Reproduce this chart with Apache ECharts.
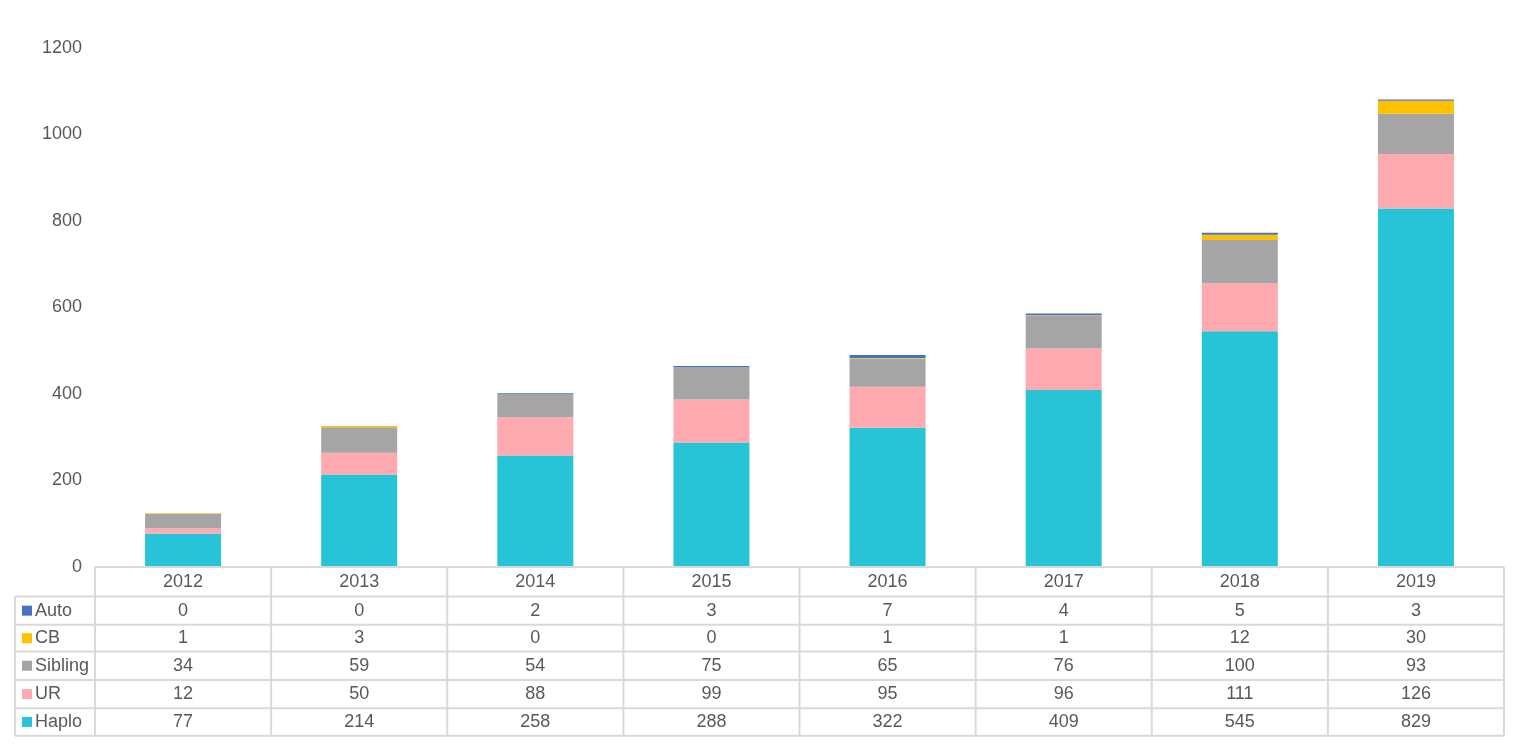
<!DOCTYPE html>
<html><head><meta charset="utf-8">
<script src="https://cdn.jsdelivr.net/npm/echarts@6/dist/echarts.min.js"></script>
<style>html,body{margin:0;padding:0;background:#fff}#c{width:1538px;height:756px}</style>
</head><body><div id="c"></div>
<script>
var years = ['2012','2013','2014','2015','2016','2017','2018','2019'];
var seriesNames = ['Haplo','UR','Sibling','CB','Auto'];
var haplo = [77,214,258,288,322,409,545,829];
var ur = [12,50,88,99,95,96,111,126];
var sibling = [34,59,54,75,65,76,100,93];
var cb = [1,3,0,0,1,1,12,30];
var auto = [0,0,2,3,7,4,5,3];
var colors = {Haplo:'#26C4D6', UR:'#FFA9B0', Sibling:'#A5A5A5', CB:'#FFC000', Auto:'#4472C4'};
var dataByName = {Haplo:haplo, UR:ur, Sibling:sibling, CB:cb, Auto:auto};
var tableOrder = ['Auto','CB','Sibling','UR','Haplo'];
var yTicks = [0,200,400,600,800,1000,1200];

var chart = echarts.init(document.getElementById('c'));
var font = 'Arial, "Liberation Sans", sans-serif';
var txt = '#595959';
var option = {
  animation:false,
  grid:{left:95,right:34,top:48,bottom:189},
  xAxis:{type:'category',data:years,axisLine:{show:false},axisTick:{show:false},axisLabel:{show:false}},
  yAxis:{type:'value',min:yTicks[0],max:yTicks[yTicks.length-1],interval:200,
    axisLine:{show:false},axisTick:{show:false},splitLine:{show:false},
    axisLabel:{color:txt,fontSize:18,fontFamily:font,margin:13,formatter:function(v){return String(v);}}},
  series: seriesNames.map(function(n){return {name:n,type:'bar',stack:'s',barWidth:76,
    itemStyle:{color:colors[n]},data:dataByName[n]};})
};
chart.setOption(option);

var left=95, right=1504, top0=567, rowH=[29.5,28.3,26.8,28.3,28.3,27.5];
var g=[];
var lineStyle={stroke:'#D9D9D9',lineWidth:2};
var ys=[top0]; for(var i=0;i<rowH.length;i++) ys.push(ys[i]+rowH[i]);
var colW=(right-left)/years.length;
g.push({type:'line',shape:{x1:left,y1:ys[0],x2:right,y2:ys[0]},style:lineStyle,z:10});
for(var r=1;r<ys.length;r++) g.push({type:'line',shape:{x1:15,y1:ys[r],x2:right,y2:ys[r]},style:lineStyle,z:10});
g.push({type:'line',shape:{x1:15,y1:ys[1],x2:15,y2:ys[ys.length-1]},style:lineStyle,z:10});
for(var c=0;c<=years.length;c++){var x=left+c*colW;
  g.push({type:'line',shape:{x1:x,y1:ys[0],x2:x,y2:ys[ys.length-1]},style:lineStyle,z:10});}
years.forEach(function(y,i){
  var cx=chart.convertToPixel({xAxisIndex:0},y);
  g.push({type:'text',x:cx,y:(ys[0]+ys[1])/2,style:{text:y,fill:txt,font:'18px '+font,textAlign:'center',textVerticalAlign:'middle'},z:11});
});
tableOrder.forEach(function(n,r){
  var cy=(ys[r+1]+ys[r+2])/2;
  g.push({type:'rect',shape:{x:22,y:cy-5,width:10,height:10},style:{fill:colors[n]},z:11});
  g.push({type:'text',x:35,y:cy,style:{text:n,fill:txt,font:'18px '+font,textAlign:'left',textVerticalAlign:'middle'},z:11});
  dataByName[n].forEach(function(v,i){
    var cx=chart.convertToPixel({xAxisIndex:0},years[i]);
    g.push({type:'text',x:cx,y:cy,style:{text:String(v),fill:txt,font:'18px '+font,textAlign:'center',textVerticalAlign:'middle'},z:11});
  });
});
chart.setOption({graphic:g});
</script></body></html>
